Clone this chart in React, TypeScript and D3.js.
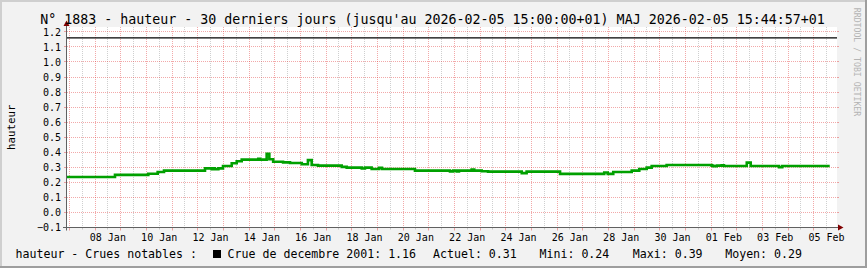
import React, { useEffect } from "react";
import * as d3 from "d3";

// ---- data ----
const TITLE =
  "N° 1883 - hauteur - 30 derniers jours (jusqu'au 2026-02-05 15:00:00+01) MAJ 2026-02-05 15:44:57+01";
const Y_LABEL = "hauteur";
const WATERMARK = "RRDTOOL / TOBI OETIKER";

const X_START = "2026-01-06T21:48:00Z";
const X_END = "2026-02-05T21:48:00Z";
const DATA_END = "2026-02-05T15:00:00Z";

const TIMES = [
  "2026-01-06T21:48", "2026-01-08T18:40", "2026-01-10T01:50", "2026-01-10T10:35",
  "2026-01-10T16:30", "2026-01-12T06:50", "2026-01-12T13:05", "2026-01-12T14:35",
  "2026-01-12T16:10", "2026-01-12T19:20", "2026-01-12T23:40", "2026-01-13T07:50",
  "2026-01-13T12:30", "2026-01-13T17:10", "2026-01-14T08:40", "2026-01-14T10:20",
  "2026-01-14T16:30", "2026-01-14T19:00", "2026-01-14T22:35", "2026-01-15T07:50",
  "2026-01-15T14:20", "2026-01-16T01:20", "2026-01-16T07:05", "2026-01-16T10:35",
  "2026-01-16T16:30", "2026-01-17T14:40", "2026-01-17T19:20", "2026-01-18T09:25",
  "2026-01-18T12:25", "2026-01-18T18:40", "2026-01-19T01:30", "2026-01-19T04:20",
  "2026-01-20T11:10", "2026-01-21T19:55", "2026-01-21T23:00", "2026-01-22T02:10",
  "2026-01-22T04:20", "2026-01-22T16:10", "2026-01-22T18:35", "2026-01-23T01:35",
  "2026-01-23T07:30", "2026-01-24T15:00", "2026-01-24T19:35", "2026-01-26T02:50",
  "2026-01-27T20:10", "2026-01-27T23:25", "2026-01-28T04:35", "2026-01-28T21:50",
  "2026-01-29T04:55", "2026-01-29T11:50", "2026-01-29T16:30", "2026-01-30T06:30",
  "2026-02-01T00:35", "2026-02-01T02:05", "2026-02-01T05:20", "2026-02-01T10:00",
  "2026-02-01T12:05", "2026-02-02T09:25", "2026-02-02T13:05", "2026-02-03T15:35",
  "2026-02-03T18:35",
];
const VALUES = [
  0.236, 0.25, 0.257, 0.269,
  0.278, 0.293, 0.287, 0.293,
  0.287, 0.293, 0.309, 0.327,
  0.34, 0.351, 0.356, 0.351,
  0.39, 0.353, 0.337, 0.333,
  0.329, 0.32, 0.348, 0.315,
  0.311, 0.303, 0.298, 0.292,
  0.298, 0.289, 0.296, 0.289,
  0.278, 0.273, 0.278, 0.273,
  0.278, 0.285, 0.278, 0.274,
  0.271, 0.261, 0.271, 0.256,
  0.265, 0.256, 0.269, 0.278,
  0.289, 0.298, 0.309, 0.315,
  0.311, 0.307, 0.311, 0.314,
  0.309, 0.331, 0.309, 0.3,
  0.309,
];

const CRUE_VALUE = 1.16;
const Y_TICKS = [-0.1, 0.0, 0.1, 0.2, 0.3, 0.4, 0.5, 0.6, 0.7, 0.8, 0.9, 1.0, 1.1, 1.2];
const X_LABEL_DAYS = [
  "2026-01-08", "2026-01-10", "2026-01-12", "2026-01-14", "2026-01-16",
  "2026-01-18", "2026-01-20", "2026-01-22", "2026-01-24", "2026-01-26",
  "2026-01-28", "2026-01-30", "2026-02-01", "2026-02-03", "2026-02-05",
];

const LEGEND_HEAD = "hauteur - Crues notables :";
const LEGEND_CRUE = "Crue de decembre 2001: 1.16";
const LEGEND_STATS = ["Actuel: 0.31", "Mini: 0.24", "Maxi: 0.39", "Moyen: 0.29"];

// ---- layout ----
const W = 867;
const H = 268;
const PX0 = 67;
const PX1 = 837;
const PY0 = 27;
const PY1 = 227.5;
const FONT = "'DejaVu Sans Mono', monospace";
const MGRID = "rgba(222,40,40,0.4)";
const GRID = "rgba(130,130,130,0.38)";

const parse = (s: string) => new Date(s.endsWith("Z") ? s : s + ":00Z");

export default function App() {
  useEffect(() => {
    document.body.style.margin = "0";
  }, []);

  const x = d3.scaleUtc().domain([parse(X_START), parse(X_END)]).range([PX0, PX1]);
  const y = d3.scaleLinear().domain([-0.1, 1.2]).range([PY1, 31.85]);

  const pts: [Date, number][] = TIMES.map((t, i) => [parse(t), VALUES[i]]);
  pts.push([parse(DATA_END), VALUES[VALUES.length - 1]]);
  const line = d3
    .line<[Date, number]>()
    .x((d) => x(d[0]))
    .y((d) => y(d[1]))
    .curve(d3.curveStepAfter);

  const days = d3.utcDay.range(parse(X_START), parse(X_END));
  const noons = d3.utcHour
    .every(12)!
    .range(parse(X_START), parse(X_END))
    .filter((d) => d.getUTCHours() === 12);
  const px = (v: number) => Math.floor(v) + 0.5;
  const fmtX = d3.utcFormat("%d %b");
  const fmtY = d3.format(".1f");

  const legendX = [433, 539.5, 632.8, 725.2];

  return (
    <svg width={W} height={H} style={{ display: "block" }} fontFamily={FONT}>
      <rect x={0} y={0} width={W} height={H} fill="#F2F2F2" />
      <rect x={0} y={0} width={W} height={2} fill="#CFCFCF" />
      <rect x={0} y={0} width={2} height={H} fill="#CFCFCF" />
      <rect x={0} y={H - 2} width={W} height={2} fill="#9E9E9E" />
      <rect x={W - 2} y={0} width={2} height={H} fill="#9E9E9E" />

      <rect x={PX0} y={PY0} width={PX1 - PX0} height={PY1 - PY0} fill="#FFFFFF" />

      {/* minor vertical grid (noon) */}
      {noons.map((d, i) => (
        <g key={"n" + i}>
          <line x1={px(x(d))} x2={px(x(d))} y1={PY0} y2={PY1} stroke={GRID} strokeDasharray="1,1" />
          <line x1={px(x(d))} x2={px(x(d))} y1={PY1} y2={PY1 + 2} stroke={GRID} />
        </g>
      ))}
      {/* major vertical grid (midnight) */}
      {days.map((d, i) => (
        <g key={"d" + i}>
          <line x1={px(x(d))} x2={px(x(d))} y1={PY0} y2={PY1} stroke={MGRID} strokeDasharray="1,1" />
          <line x1={px(x(d))} x2={px(x(d))} y1={PY1} y2={PY1 + 3} stroke={MGRID} />
        </g>
      ))}
      {/* horizontal grid */}
      {Y_TICKS.filter((v) => v > -0.05).map((v, i) => (
        <g key={"h" + i}>
          <line x1={PX0} x2={PX1} y1={px(y(v))} y2={px(y(v))} stroke={MGRID} strokeDasharray="1,1" />
          <line x1={PX0 - 3} x2={PX0} y1={px(y(v))} y2={px(y(v))} stroke={MGRID} />
          <line x1={PX1} x2={PX1 + 2} y1={px(y(v))} y2={px(y(v))} stroke={MGRID} />
        </g>
      ))}

      {/* crue line */}
      <line x1={PX0} x2={PX1} y1={y(CRUE_VALUE)} y2={y(CRUE_VALUE)} stroke="#000" strokeWidth={1.3} />

      {/* data */}
      <path d={line(pts) || ""} fill="none" stroke="#00A000" strokeWidth={2.6} />

      {/* axes */}
      <line x1={66.5} x2={66.5} y1={PY1 + 3} y2={24} stroke="#606060" />
      <line x1={63} x2={839} y1={PY1} y2={PY1} stroke="#606060" />
      <polygon points="63.5,26 69.5,26 66.5,20.5" fill="#800000" />
      <polygon points="838,224.5 838,230.5 843.5,227.5" fill="#800000" />

      {/* y tick labels */}
      {Y_TICKS.map((v, i) => (
        <text key={"yl" + i} x={61} y={y(v) + 3.7} fontSize={10} textAnchor="end" fill="#000">
          {fmtY(v)}
        </text>
      ))}
      {/* x tick labels */}
      {X_LABEL_DAYS.map((s, i) => {
        const d = parse(s + "T12:00");
        return (
          <text key={"xl" + i} x={x(d)} y={240.5} fontSize={10} textAnchor="middle" fill="#000">
            {fmtX(d)}
          </text>
        );
      })}

      {/* title */}
      <text x={432.5} y={24} fontSize={13.3} textAnchor="middle" fill="#000">
        {TITLE}
      </text>

      {/* y axis label */}
      <text
        transform={`translate(14.5,${(PY0 + PY1) / 2}) rotate(-90)`}
        fontSize={10.8}
        textAnchor="middle"
        fill="#000"
      >
        {Y_LABEL}
      </text>

      {/* watermark */}
      <text
        transform="translate(854,62) rotate(90)"
        fontSize={8.2}
        textAnchor="middle"
        fill="#B4B4B4"
      >
        {WATERMARK}
      </text>

      {/* legend */}
      <text x={15.5} y={257.5} fontSize={11.6} fill="#000">
        {LEGEND_HEAD}
      </text>
      <rect x={213} y={250} width={8} height={8} fill="#000" />
      <text x={227.6} y={257.5} fontSize={11.6} fill="#000">
        {LEGEND_CRUE}
      </text>
      {LEGEND_STATS.map((s, i) => (
        <text key={"lg" + i} x={legendX[i]} y={257.5} fontSize={11.6} fill="#000">
          {s}
        </text>
      ))}
    </svg>
  );
}
